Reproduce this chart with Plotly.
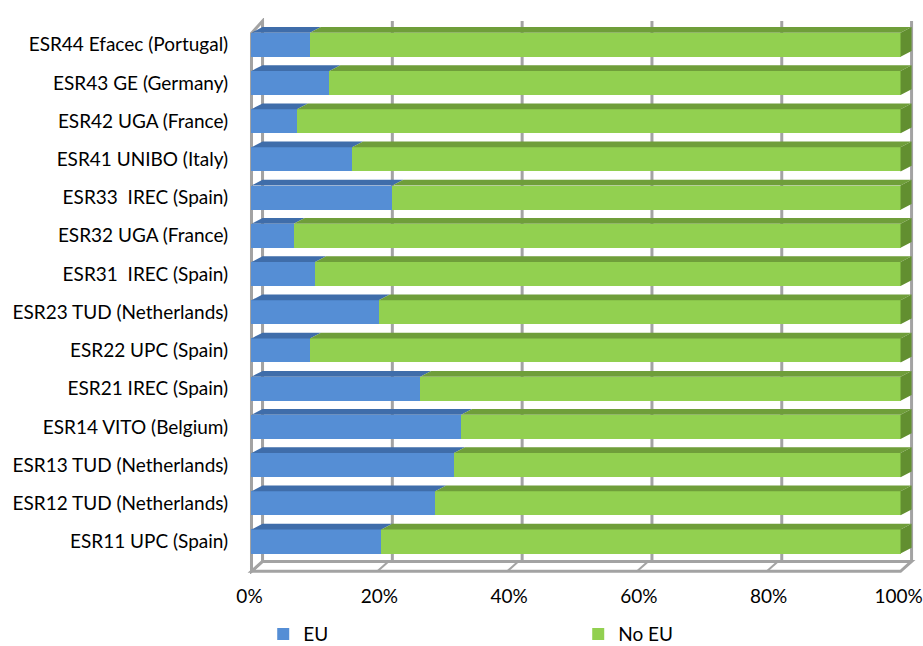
import plotly.graph_objects as go

# ---- data (bottom to top) ----
categories = [
    "ESR11 UPC (Spain)",
    "ESR12 TUD (Netherlands)",
    "ESR13 TUD (Netherlands)",
    "ESR14 VITO (Belgium)",
    "ESR21 IREC (Spain)",
    "ESR22 UPC (Spain)",
    "ESR23 TUD (Netherlands)",
    "ESR31  IREC (Spain)",
    "ESR32 UGA (France)",
    "ESR33  IREC (Spain)",
    "ESR41 UNIBO (Italy)",
    "ESR42 UGA (France)",
    "ESR43 GE (Germany)",
    "ESR44 Efacec (Portugal)",
]
eu = [20.0, 28.3, 31.2, 32.3, 26.0, 9.0, 19.6, 9.8, 6.5, 21.7, 15.5, 7.0, 12.0, 9.0]
no_eu = [100 - v for v in eu]
x_ticks = [0, 20, 40, 60, 80, 100]
x_ticktext = ["0%", "20%", "40%", "60%", "80%", "100%"]

# ---- style ----
BLUE, BLUE_D = "#558ED5", "#3F6DAA"
GREEN, GREEN_D = "#92D050", "#6F9E3A"
GREY = "#A3A3A3"
FONT = "Lato"
FS = 19
W = 0.63          # bar thickness (category units)
DX, DY = 1.7, 0.15  # depth offset for bar top faces
FDY = 0.26          # depth offset for floor / walls
Y_FLOOR = -0.78
Y_TOP_F, Y_TOP_B = 13.3, 13.62

idx = list(range(len(categories)))
fig = go.Figure()

fig.add_trace(go.Bar(y=idx, x=eu, orientation="h", name="EU", width=W,
                     marker=dict(color=BLUE, line=dict(width=0)), hoverinfo="x+y"))
fig.add_trace(go.Bar(y=idx, x=no_eu, orientation="h", name="No EU", width=W,
                     marker=dict(color=GREEN, line=dict(width=0)), hoverinfo="x+y"))

# top faces and right side face (3D look), derived from the data
def face_trace(segments, color):
    xs, ys = [], []
    for (x0, x1, yb) in segments:
        xs += [x0, x1, x1 + DX, x0 + DX, x0, None]
        ys += [yb, yb, yb + DY, yb + DY, yb, None]
    return go.Scatter(x=xs, y=ys, mode="lines", fill="toself", fillcolor=color,
                      line=dict(width=0, color=color), showlegend=False, hoverinfo="skip")

blue_top = [(0, e, i + W / 2) for i, e in zip(idx, eu)]
green_top = [(e, e + n, i + W / 2) for i, e, n in zip(idx, eu, no_eu)]
fig.add_trace(face_trace(blue_top, BLUE_D))
fig.add_trace(face_trace(green_top, GREEN_D))

sx, sy = [], []
for i, e, n in zip(idx, eu, no_eu):
    xr = e + n
    yb, yt = i - W / 2, i + W / 2
    sx += [xr, xr, xr + DX, xr + DX, xr, None]
    sy += [yb, yt, yt + DY, yb + DY, yb, None]
fig.add_trace(go.Scatter(x=sx, y=sy, mode="lines", fill="toself", fillcolor="#628F30",
                         line=dict(width=0), showlegend=False, hoverinfo="skip"))

# walls, floor, back gridlines
shapes = []
line = dict(color=GREY, width=3)
for t in x_ticks:
    shapes.append(dict(type="line", layer="below", x0=t + DX, x1=t + DX,
                       y0=Y_FLOOR + FDY, y1=Y_TOP_B, line=line))
# floor
shapes.append(dict(type="path", layer="below", fillcolor="white", line=line,
                   path=f"M 0 {Y_FLOOR} L 100 {Y_FLOOR} L {100+DX} {Y_FLOOR+FDY} L {DX} {Y_FLOOR+FDY} Z"))
for t in x_ticks[1:-1]:
    shapes.append(dict(type="line", layer="below", x0=t - 0.6, x1=t + DX - 0.6,
                       y0=Y_FLOOR, y1=Y_FLOOR + FDY, line=dict(color=GREY, width=2)))
# left wall
shapes.append(dict(type="path", layer="below", fillcolor="white", line=line,
                   path=f"M 0 {Y_FLOOR} L 0 {Y_TOP_F} L {DX} {Y_TOP_B} L {DX} {Y_FLOOR+FDY} Z"))

fig.update_layout(
    width=923, height=646,
    margin=dict(l=245, r=3, t=18, b=72, autoexpand=False),
    paper_bgcolor="white", plot_bgcolor="white",
    barmode="stack", bargap=0,
    shapes=shapes,
    font=dict(family=FONT, size=FS, color="#000000"),
    xaxis=dict(range=[-1, 103], tickvals=x_ticks, ticktext=x_ticktext,
               showgrid=False, zeroline=False, showline=False,
               ticks="outside", ticklen=5, tickcolor="rgba(0,0,0,0)",
               ticklabelshift=-2, ticklabeloverflow="allow",
               tickfont=dict(size=FS)),
    yaxis=dict(range=[-0.85, 13.7], tickvals=idx,
               ticktext=[c.replace("  ", "\u00a0 ") for c in categories],
               showgrid=False, zeroline=False, showline=False,
               ticks="outside", ticklen=12, tickcolor="rgba(0,0,0,0)",
               tickfont=dict(size=FS)),
    legend=dict(orientation="h", x=0.027, xanchor="left", y=-0.108, yanchor="middle",
                entrywidth=270, entrywidthmode="pixels", itemwidth=30,
                font=dict(size=FS), traceorder="normal"),
    showlegend=True,
)

fig.write_html("out.html")
